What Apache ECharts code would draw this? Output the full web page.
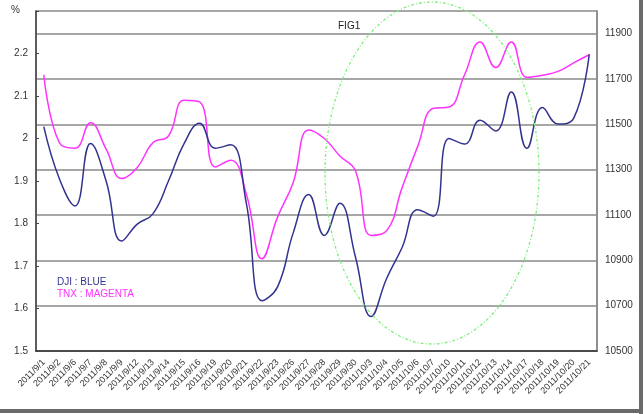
<!DOCTYPE html>
<html>
<head>
<meta charset="utf-8">
<script src="https://cdn.jsdelivr.net/npm/echarts@6/dist/echarts.min.js"></script>
<style>
html,body{margin:0;padding:0;background:#fff;}
#c{width:644px;height:414px;}
</style>
</head>
<body>
<div id="c"></div>
<script>
const categories = ['2011/9/1','2011/9/2','2011/9/6','2011/9/7','2011/9/8','2011/9/9','2011/9/12','2011/9/13','2011/9/14','2011/9/15','2011/9/16','2011/9/19','2011/9/20','2011/9/21','2011/9/22','2011/9/23','2011/9/26','2011/9/27','2011/9/28','2011/9/29','2011/9/30','2011/10/3','2011/10/4','2011/10/5','2011/10/6','2011/10/7','2011/10/10','2011/10/11','2011/10/12','2011/10/13','2011/10/14','2011/10/17','2011/10/18','2011/10/19','2011/10/20','2011/10/21'];
const dji = [11490, 11260, 11140, 11415, 11250, 10985, 11060, 11105, 11250, 11415, 11505, 11395, 11410, 11150, 10722, 10783, 11020, 11190, 11010, 11152, 10915, 10652, 10820, 10958, 11123, 11095, 11438, 11413, 11518, 11471, 11643, 11394, 11574, 11501, 11526, 11809];
const tnx = [2.15, 1.99, 1.977, 2.037, 1.975, 1.906, 1.932, 1.99, 2.006, 2.09, 2.086, 1.933, 1.949, 1.869, 1.717, 1.815, 1.896, 2.02, 2.0, 1.959, 1.924, 1.772, 1.783, 1.885, 1.982, 2.071, 2.074, 2.15, 2.227, 2.167, 2.227, 2.144, 2.149, 2.158, 2.178, 2.197];
const leftTicks = [1.5, 1.6, 1.7, 1.8, 1.9, 2, 2.1, 2.2];
const rightTicks = [10500, 10700, 10900, 11100, 11300, 11500, 11700, 11900];

const FONT = "'Liberation Sans', Arial, sans-serif";
const BLUE = '#33338f';
const MAG = '#ff33ff';

const chart = echarts.init(document.getElementById('c'), null, {renderer: 'canvas'});
chart.setOption({
  animation: false,
  backgroundColor: '#fff',
  textStyle: {fontFamily: FONT},
  title: {
    text: 'FIG1', left: 333, top: 16,
    textStyle: {fontSize: 10, fontWeight: 'normal', color: '#222', fontFamily: FONT}
  },
  legend: {
    orient: 'vertical', left: 51, top: 276, padding: 0,
    itemWidth: 0, itemHeight: 0, itemGap: 0, selectedMode: false,
    textStyle: {fontSize: 10, fontFamily: FONT, lineHeight: 12},
    data: [
      {name: 'DJI : BLUE', textStyle: {color: BLUE}},
      {name: 'TNX : MAGENTA', textStyle: {color: MAG}}
    ]
  },
  grid: {
    left: 36, right: 47, top: 11, bottom: 63,
    show: true, borderColor: '#8a8a8a', borderWidth: 1.5
  },
  xAxis: {
    type: 'category', data: categories, boundaryGap: true,
    axisLine: {lineStyle: {color: '#333', width: 1.5}},
    axisTick: {inside: true, length: 4, lineStyle: {color: '#333'}},
    axisLabel: {rotate: 45, interval: 0, fontSize: 9, color: '#333', margin: 10, fontFamily: FONT}
  },
  yAxis: [
    {
      type: 'value', min: 1.5, max: 2.3, interval: 0.1, position: 'left',
      axisLine: {show: true, lineStyle: {color: '#444', width: 1.5}},
      axisTick: {show: true, inside: true, length: 3, lineStyle: {color: '#444'}},
      splitLine: {show: false},
      axisLabel: {
        fontSize: 10, color: '#333', margin: 8, fontFamily: FONT,
        formatter: v => leftTicks.some(t => Math.abs(t - v) < 1e-6) ? String(Math.round(v * 10) / 10) : ''
      }
    },
    {
      type: 'value', min: 10500, max: 12000, interval: 100, position: 'right',
      axisLine: {show: true, lineStyle: {color: '#8a8a8a', width: 1.5}},
      axisTick: {show: false},
      splitLine: {show: true, lineStyle: {color: ['#8a8a8a', 'rgba(0,0,0,0)'], width: 1.5}},
      axisLabel: {
        fontSize: 10, color: '#333', margin: 8, fontFamily: FONT,
        formatter: v => rightTicks.indexOf(Math.round(v)) >= 0 ? String(Math.round(v)) : ''
      }
    }
  ],
  series: [
    {
      name: 'TNX : MAGENTA', type: 'line', yAxisIndex: 0, data: tnx,
      smooth: 0.45, symbol: 'none',
      lineStyle: {color: MAG, width: 1.5}, itemStyle: {color: MAG}
    },
    {
      name: 'DJI : BLUE', type: 'line', yAxisIndex: 1, data: dji,
      smooth: 0.45, symbol: 'none',
      lineStyle: {color: BLUE, width: 1.5}, itemStyle: {color: BLUE}
    }
  ],
  graphic: [
    {type: 'text', left: 11, top: 5, style: {text: '%', fontSize: 10, fill: '#333', font: '10px ' + FONT}},
    {type: 'ellipse', z: 10, silent: true,
     shape: {cx: 432, cy: 173, rx: 107, ry: 171},
     style: {fill: 'none', stroke: '#7cf07c', lineWidth: 1.3, lineDash: [3, 2, 1, 2]}},
    {type: 'rect', z: 20, shape: {x: 639, y: 0, width: 4, height: 414}, style: {fill: '#6a6a6a'}},
    {type: 'rect', z: 20, shape: {x: 0, y: 409, width: 643, height: 4}, style: {fill: '#6a6a6a'}}
  ]
});
</script>
</body>
</html>
